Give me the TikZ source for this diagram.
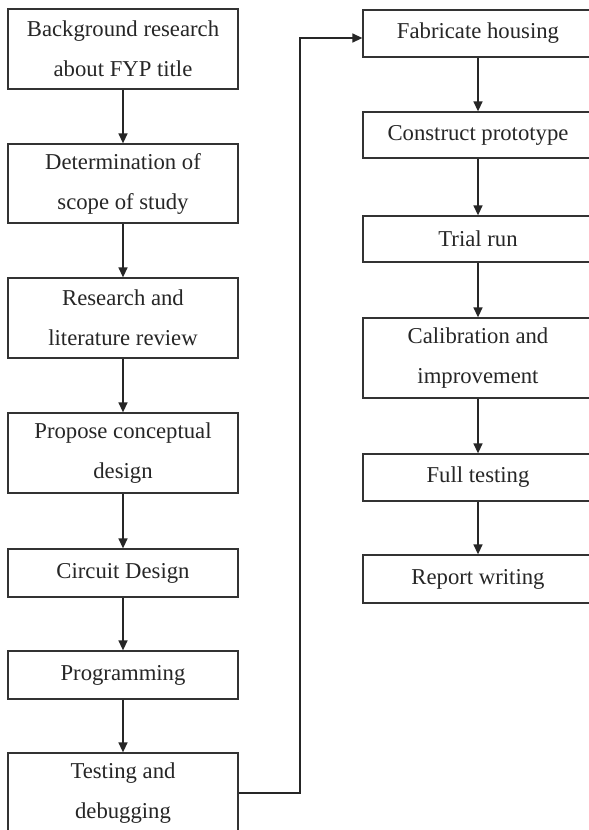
\documentclass[tikz,border=0pt]{standalone}
\usepackage{fontspec}
\setmainfont{Liberation Serif}
\usetikzlibrary{arrows.meta}
\begin{document}
\begin{tikzpicture}[x=1pt,y=-1pt,
  stepbox/.style={draw=black!80, line width=1.3pt, minimum width=230pt, inner sep=0pt,
    align=center, font=\fontsize{22.7}{40}\selectfont, text=black!85},
  rbox/.style={stepbox, minimum width=230pt},
  flow/.style={line width=1.4pt, draw=black!85, -{Triangle[width=9pt,length=10pt]}}]
\useasboundingbox (0,0) rectangle (589,830);
\clip (0,0) rectangle (589,830);
\fill[white] (0,0) rectangle (589,830);
% left column
\node[stepbox, minimum height=80pt] (b1) at (123,49) {Background research\\about FYP title};
\node[stepbox, minimum height=79pt] (b2) at (123,183.5) {Determination of\\scope of study};
\node[stepbox, minimum height=80pt] (b3) at (123,318) {Research and\\literature review};
\node[stepbox, minimum height=80pt] (b4) at (123,453) {Propose conceptual\\design};
\node[stepbox, minimum height=48pt] (b5) at (123,573) {Circuit Design};
\node[stepbox, minimum height=48pt] (b6) at (123,675) {Programming};
\node[stepbox, minimum height=80pt] (b7) at (123,793) {Testing and\\debugging};
% right column
\node[rbox, minimum height=47pt] (r1) at (478,33.5) {Fabricate housing};
\node[rbox, minimum height=46pt] (r2) at (478,135) {Construct prototype};
\node[rbox, minimum height=46pt] (r3) at (478,239) {Trial run};
\node[rbox, minimum height=80pt] (r4) at (478,358) {Calibration and\\improvement};
\node[rbox, minimum height=47pt] (r5) at (478,477.5) {Full testing};
\node[rbox, minimum height=48pt] (r6) at (478,579) {Report writing};
% connectors
\draw[flow] (b1) -- (b2);
\draw[flow] (b2) -- (b3);
\draw[flow] (b3) -- (b4);
\draw[flow] (b4) -- (b5);
\draw[flow] (b5) -- (b6);
\draw[flow] (b6) -- (b7);
\draw[flow] (r1) -- (r2);
\draw[flow] (r2) -- (r3);
\draw[flow] (r3) -- (r4);
\draw[flow] (r4) -- (r5);
\draw[flow] (r5) -- (r6);
\coordinate (turn) at (300,38);
\draw[flow] (b7.east) -| (turn) -- (turn -| r1.west);
\end{tikzpicture}
\end{document}
